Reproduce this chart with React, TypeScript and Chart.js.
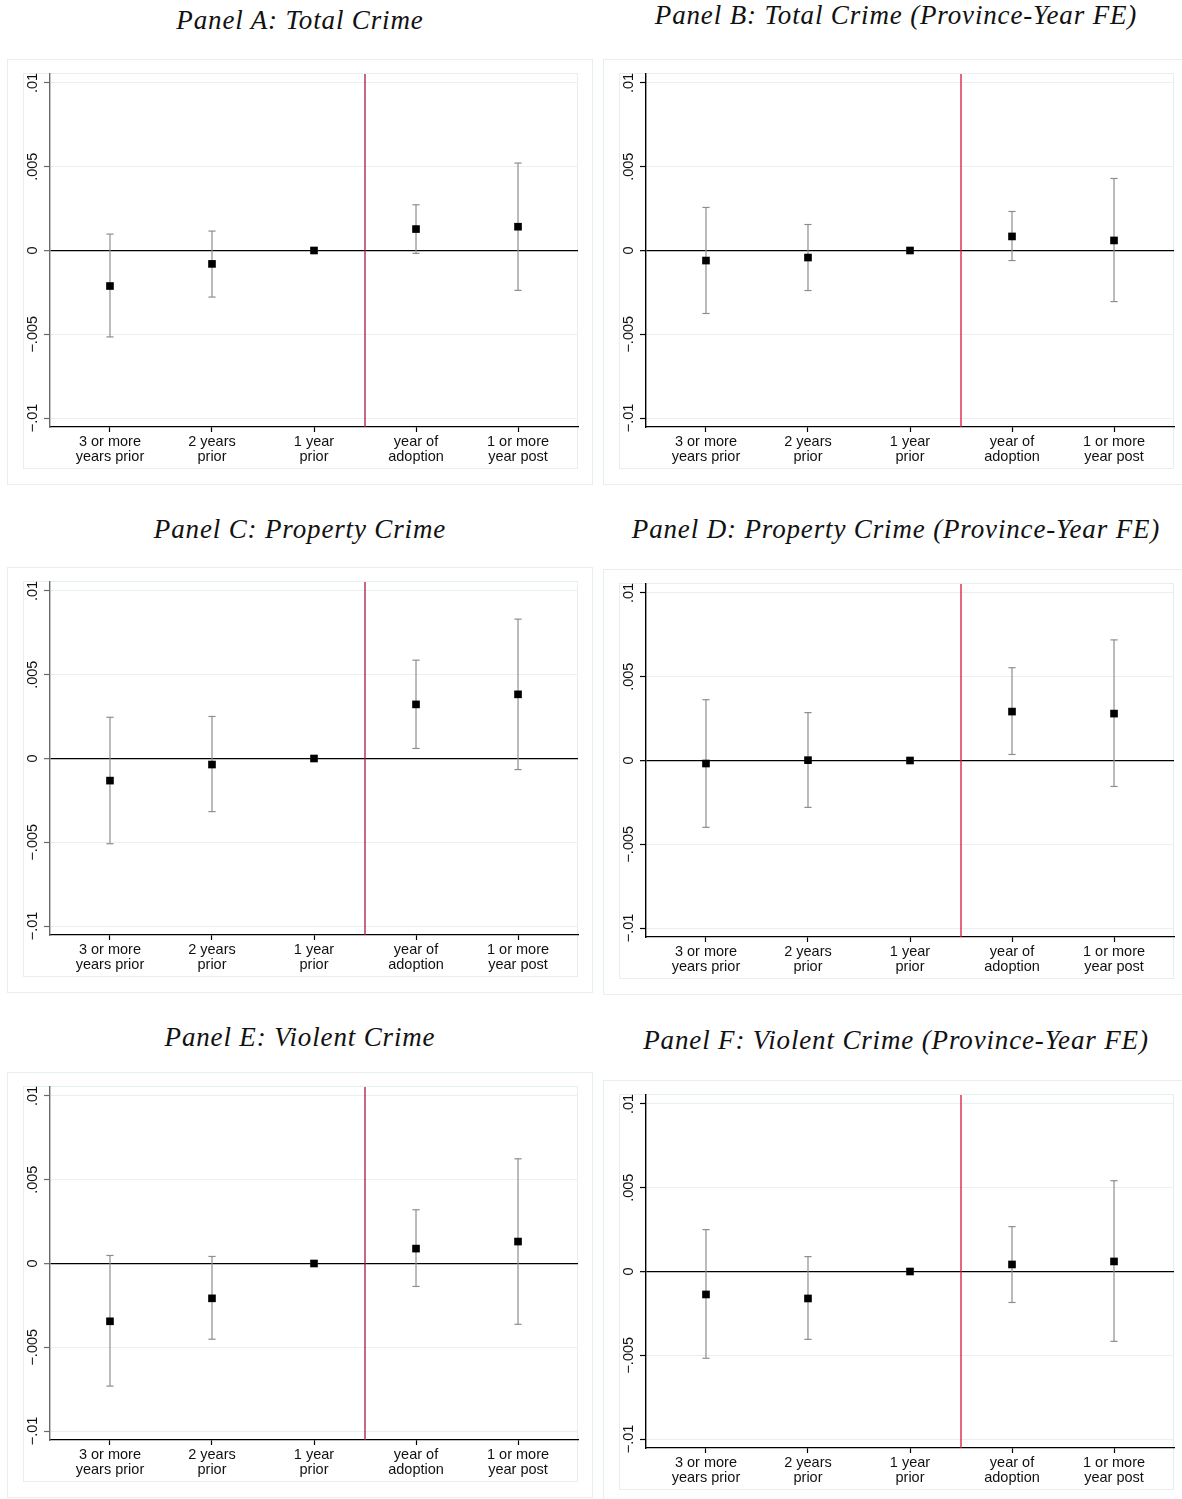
import React, { useEffect, useRef } from 'react';
import { Chart, registerables } from 'chart.js';
Chart.register(...registerables);

// ---------- data ----------
const categories: string[][] = [
  ['3 or more', 'years prior'],
  ['2 years', 'prior'],
  ['1 year', 'prior'],
  ['year of', 'adoption'],
  ['1 or more', 'year post'],
];
const categoryPositions = [1, 2, 3, 4, 5];
const adoptionBoundary = 3.5;
const yTickValues = [-0.01, -0.005, 0, 0.005, 0.01];
const yTickLabels = ['\u2212.01', '\u2212.005', '0', '.005', '.01'];

const panelTitles = [
  'Panel A: Total Crime',
  'Panel B: Total Crime (Province-Year FE)',
  'Panel C: Property Crime',
  'Panel D: Property Crime (Province-Year FE)',
  'Panel E: Violent Crime',
  'Panel F: Violent Crime (Province-Year FE)',
];

const estA = [-0.00212, -0.0008, 0, 0.00128, 0.00142];
const loA = [-0.00516, -0.00278, 0, -0.00017, -0.00238];
const hiA = [0.00098, 0.00116, 0, 0.00273, 0.00522];

const estB = [-0.0006, -0.00042, 0, 0.00084, 0.0006];
const loB = [-0.00376, -0.00239, 0, -0.0006, -0.00305];
const hiB = [0.00257, 0.00155, 0, 0.00233, 0.0043];

const estC = [-0.00132, -0.00036, 0, 0.00323, 0.00383];
const loC = [-0.00509, -0.00317, 0, 0.0006, -0.00066];
const hiC = [0.00246, 0.00251, 0, 0.00587, 0.00832];

const estD = [-0.00018, 0.00002, 0, 0.00292, 0.0028];
const loD = [-0.00399, -0.0028, 0, 0.00036, -0.00155];
const hiD = [0.00363, 0.00286, 0, 0.00554, 0.0072];

const estE = [-0.00345, -0.00208, 0, 0.00089, 0.00131];
const loE = [-0.00732, -0.00452, 0, -0.00137, -0.00363];
const hiE = [0.00048, 0.00042, 0, 0.00321, 0.00625];

const estF = [-0.00137, -0.00161, 0, 0.00042, 0.0006];
const loF = [-0.00518, -0.00405, 0, -0.00185, -0.00417];
const hiF = [0.0025, 0.00089, 0, 0.00268, 0.00542];

const panelData = [
  { est: estA, lo: loA, hi: hiA },
  { est: estB, lo: loB, hi: hiB },
  { est: estC, lo: loC, hi: hiC },
  { est: estD, lo: loD, hi: hiD },
  { est: estE, lo: loE, hi: hiE },
  { est: estF, lo: loF, hi: hiF },
];

// ---------- layout / style ----------
const PANEL_W = 586;
const PANEL_H = 426;
const Y_MAX = 0.010537;
const Y_MIN = -0.010537;
const X_MIN = 0.412;
const X_MAX = 5.588;

const panelLayouts = [
  { left: 7, top: 59, titleY: 20.5, axisColor: '#6a6a6a', red: '#a8173f' },
  { left: 603, top: 59, titleY: 15.5, axisColor: '#000000', red: '#d8153a' },
  { left: 7, top: 567, titleY: 530, axisColor: '#6a6a6a', red: '#a8173f' },
  { left: 603, top: 569, titleY: 530, axisColor: '#000000', red: '#d8153a' },
  { left: 7, top: 1072, titleY: 1038, axisColor: '#6a6a6a', red: '#a8173f' },
  { left: 603, top: 1080, titleY: 1041, axisColor: '#000000', red: '#d8153a' },
];

const GRID = '#e8f0f1';
const BOX = '#e6eeee';
const CI_COLOR = '#8e8e8e';
const SANS = '"Liberation Sans", Arial, sans-serif';

const rotatedYLabels = {
  id: 'rotatedYLabels',
  afterDraw(chart: any) {
    const ctx = chart.ctx;
    const y = chart.scales.y;
    ctx.save();
    ctx.font = `14.5px ${SANS}`;
    ctx.fillStyle = '#111';
    ctx.textAlign = 'center';
    ctx.textBaseline = 'alphabetic';
    yTickValues.forEach((v, i) => {
      const py = y.getPixelForValue(v);
      ctx.save();
      ctx.translate(30, py);
      ctx.rotate(-Math.PI / 2);
      ctx.fillText(yTickLabels[i], 0, 0);
      ctx.restore();
    });
    ctx.restore();
  },
};

function Panel({ index }: { index: number }) {
  const ref = useRef<HTMLCanvasElement>(null);
  const layout = panelLayouts[index];
  const data = panelData[index];

  useEffect(() => {
    if (!ref.current) return;
    const ciSets = categoryPositions.map((x, i) => ({
      data: [
        { x, y: data.lo[i] },
        { x, y: data.hi[i] },
      ],
      showLine: true,
      borderColor: CI_COLOR,
      borderWidth: 1.2,
      pointStyle: 'line',
      pointRadius: 3.6,
      pointBorderColor: CI_COLOR,
      pointBorderWidth: 1.2,
      pointBackgroundColor: CI_COLOR,
    }));
    const chart = new Chart(ref.current, {
      type: 'scatter',
      data: {
        datasets: [
          {
            data: categoryPositions.map((x, i) => ({ x, y: data.est[i] })),
            pointStyle: 'rect',
            pointRadius: 5.4,
            backgroundColor: '#000',
            borderWidth: 0,
            pointBorderWidth: 0,
          },
          ...ciSets,
          {
            data: [
              { x: adoptionBoundary, y: Y_MIN },
              { x: adoptionBoundary, y: Y_MAX },
            ],
            showLine: true,
            borderColor: layout.red,
            borderWidth: 1.3,
            pointRadius: 0,
          },
        ] as any,
      },
      options: {
        animation: false,
        responsive: false,
        events: [],
        layout: { padding: { top: 15, right: 15, left: 0, bottom: 0 } },
        plugins: { legend: { display: false }, tooltip: { enabled: false } },
        scales: {
          x: {
            type: 'linear',
            min: X_MIN,
            max: X_MAX,
            afterBuildTicks: (s: any) => {
              s.ticks = categoryPositions.map((v) => ({ value: v }));
            },
            afterFit: (s: any) => {
              s.height = PANEL_H - 368;
            },
            ticks: {
              autoSkip: false,
              maxRotation: 0,
              minRotation: 0,
              padding: 2,
              color: '#111',
              font: { family: SANS, size: 14.5, lineHeight: '15px' } as any,
              callback: (v: any) => categories[categoryPositions.indexOf(Number(v))] || '',
            },
            grid: {
              drawOnChartArea: false,
              drawTicks: true,
              tickLength: 5,
              tickColor: '#000',
              tickWidth: 1.2,
            },
            border: { color: '#000', width: 1.3 },
          },
          y: {
            type: 'linear',
            min: Y_MIN,
            max: Y_MAX,
            afterBuildTicks: (s: any) => {
              s.ticks = yTickValues.map((v) => ({ value: v }));
            },
            afterFit: (s: any) => {
              s.width = 43;
            },
            ticks: { display: false },
            grid: {
              color: (c: any) => (c.tick && c.tick.value === 0 ? '#000' : GRID),
              lineWidth: (c: any) => (c.tick && c.tick.value === 0 ? 1.3 : 1),
              drawTicks: true,
              tickLength: 6,
              tickColor: layout.axisColor,
              tickWidth: 1.2,
            },
            border: { color: layout.axisColor, width: 1.4 },
          },
        },
      } as any,
      plugins: [rotatedYLabels],
    });
    return () => chart.destroy();
  }, [index]);

  return (
    <>
      <div
        style={{
          position: 'absolute',
          left: layout.left,
          top: layout.titleY - 13.7,
          width: PANEL_W,
          textAlign: 'center',
          fontFamily: '"Liberation Serif", "Times New Roman", serif',
          fontStyle: 'italic',
          fontSize: 27,
          lineHeight: '27px',
          letterSpacing: '0.85px',
          color: '#111',
          whiteSpace: 'nowrap',
        }}
      >
        {panelTitles[index]}
      </div>
      <div
        style={{
          position: 'absolute',
          left: layout.left,
          top: layout.top,
          width: PANEL_W,
          height: PANEL_H,
          boxSizing: 'border-box',
          border: `1px solid ${BOX}`,
        }}
      />
      <div
        style={{
          position: 'absolute',
          left: layout.left + 16,
          top: layout.top + 14,
          width: 571 - 16,
          height: 410 - 14,
          boxSizing: 'border-box',
          border: `1px solid ${BOX}`,
        }}
      />
      <canvas
        ref={ref}
        width={PANEL_W}
        height={PANEL_H}
        style={{ position: 'absolute', left: layout.left, top: layout.top, width: PANEL_W, height: PANEL_H }}
      />
    </>
  );
}

export default function App() {
  return (
    <div
      style={{
        position: 'absolute',
        left: 0,
        top: 0,
        width: 1182,
        height: 1499,
        overflow: 'hidden',
        background: '#fff',
      }}
    >
      {panelTitles.map((_, i) => (
        <Panel key={i} index={i} />
      ))}
    </div>
  );
}
